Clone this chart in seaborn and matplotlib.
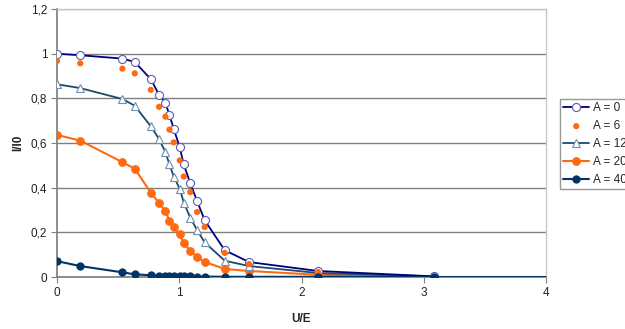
import numpy as np
import pandas as pd
import matplotlib
matplotlib.use("Agg")
import matplotlib.pyplot as plt
import matplotlib.ticker as mticker
import seaborn as sns

sns.set_theme(style="white")
plt.rcParams['font.family'] = ['Liberation Sans', 'DejaVu Sans']

x = [0.0, 0.19, 0.535, 0.636, 0.767, 0.835, 0.887, 0.92, 0.955, 1.004,
     1.037, 1.09, 1.146, 1.208, 1.372, 1.571, 2.136, 3.08]
a0 = [1.0, 0.993, 0.978, 0.963, 0.886, 0.816, 0.779, 0.725, 0.663, 0.581,
      0.504, 0.42, 0.34, 0.254, 0.12, 0.067, 0.027, 0.003]
a6 = [0.967, 0.957, 0.933, 0.912, 0.838, 0.762, 0.718, 0.66, 0.603, 0.522,
      0.45, 0.38, 0.291, 0.224, 0.108, 0.058, 0.022, 0.002]
a12 = [0.863, 0.846, 0.797, 0.767, 0.675, 0.618, 0.559, 0.504, 0.45, 0.395,
       0.333, 0.266, 0.21, 0.155, 0.073, 0.049, 0.018, 0.003]
a20 = [0.636, 0.611, 0.514, 0.485, 0.378, 0.331, 0.296, 0.251, 0.224, 0.192,
       0.153, 0.117, 0.09, 0.068, 0.036, 0.027, 0.01, 0.002]
x40 = x + [5.0]
a40 = [0.071, 0.049, 0.021, 0.012, 0.008, 0.006, 0.005, 0.005, 0.004, 0.004,
       0.003, 0.003, 0.002, 0.002, 0.001, 0.001, 0.001, 0.0, 0.0]

labels = ["A = 0", "A = 6", "A = 12", "A = 20", "A = 40"]
xticks = [0, 1, 2, 3, 4]
yticks = [0, 0.2, 0.4, 0.6, 0.8, 1.0, 1.2]

fig = plt.figure(figsize=(6.25, 3.29), dpi=100)
ax = fig.add_axes([0.0912, 0.158, 0.7824, 0.8146])

navy = "#000080"
orange = "#ff6a10"
teal = "#1b4a6b"
dark = "#003366"

sns.lineplot(x=x, y=a0, ax=ax, sort=False, estimator=None, color=navy, lw=1.3,
             marker="o", markersize=5.8, markerfacecolor="white",
             markeredgecolor="#5a5ab8", markeredgewidth=0.8, label=labels[0], zorder=5)
sns.scatterplot(x=x, y=a6, ax=ax, color=orange, s=20, edgecolor="none",
                label=labels[1], zorder=6)
sns.lineplot(x=x, y=a12, ax=ax, sort=False, estimator=None, color=teal, lw=1.3,
             marker="^", markersize=5.5, markerfacecolor="white",
             markeredgecolor="#6f8fb0", markeredgewidth=0.8, label=labels[2], zorder=4)
sns.lineplot(x=x, y=a20, ax=ax, sort=False, estimator=None, color=orange, lw=1.5,
             marker="o", markersize=5.5, markeredgecolor=orange, label=labels[3], zorder=3)
sns.lineplot(x=x40, y=a40, ax=ax, sort=False, estimator=None, color=dark, lw=1.5,
             marker="o", markersize=5.2, markeredgecolor=dark, label=labels[4], zorder=7)

ax.set_xlim(0, 4)
ax.set_ylim(0, 1.2)
ax.set_xticks(xticks)
ax.set_yticks(yticks)
fmt = mticker.FuncFormatter(lambda v, p: ("%g" % round(v, 1)).replace(".", ","))
ax.xaxis.set_major_formatter(fmt)
ax.yaxis.set_major_formatter(fmt)
ax.grid(axis="y", color="#808080", lw=1.0)
ax.grid(axis="x", visible=False)
ax.set_axisbelow(True)
for s in ["top", "right"]:
    ax.spines[s].set_color("#c8c8c8")
    ax.spines[s].set_linewidth(1.0)
ax.spines["left"].set_color("#808080")
ax.spines["bottom"].set_color("#808080")
ax.tick_params(axis="both", which="major", length=4, width=0.8, color="#808080",
               labelsize=8.5, labelcolor="#222222", direction="out",
               bottom=True, left=True, pad=3)
ax.set_xlabel("U/E", fontsize=8.5, fontweight="bold", labelpad=10)
ax.set_ylabel("I/I0", fontsize=8.5, fontweight="bold", labelpad=5)

leg = ax.legend(loc="upper left", bbox_to_anchor=(1.028, 0.665), frameon=True,
                fontsize=8.5, handlelength=2.2, handletextpad=0.3,
                borderpad=0.3, labelspacing=0.5, borderaxespad=0,
                fancybox=False, edgecolor="#808080")
leg.get_frame().set_linewidth(1.0)

fig.savefig("out.png", dpi=100)
